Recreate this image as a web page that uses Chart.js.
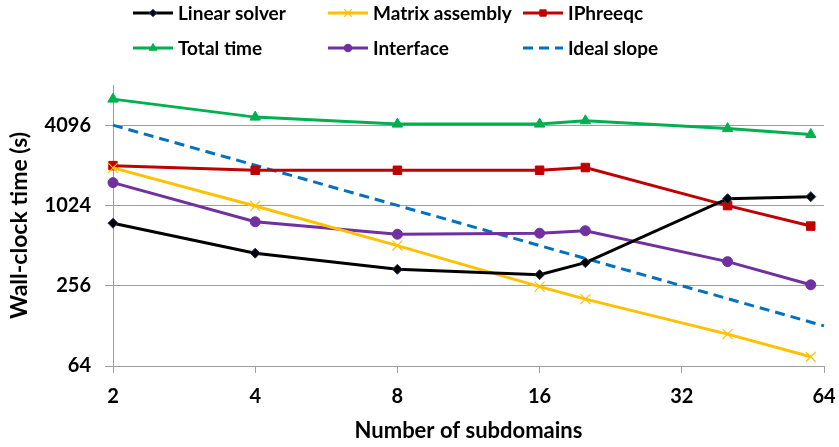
<!DOCTYPE html>
<html>
<head>
<meta charset="utf-8">
<script src="https://cdn.jsdelivr.net/npm/chart.js@4"></script>
<style>
html,body{margin:0;padding:0;background:#fff;}
#wrap{position:relative;width:839px;height:447px;}
</style>
</head>
<body>
<div id="wrap"><canvas id="c" width="839" height="447"></canvas></div>
<script>
const subdomains = [2, 4, 8, 16, 20, 40, 60];
const linearSolver = [753, 449, 340, 310, 381, 1151, 1192];
const matrixAssembly = [1958, 1014, 512, 252, 203, 111, 75];
const iphreeqc = [2036, 1880, 1880, 1880, 1970, 1021, 717];
const totalTime = [6420, 4705, 4170, 4170, 4415, 3860, 3490];
const interfaceTime = [1518, 772, 623, 634, 661, 388, 260];
const idealX = [2, 4, 8, 16, 32, 64];
const idealSlope = [4096, 2048, 1024, 512, 256, 128];
const xTicks = [2, 4, 8, 16, 32, 64];
const yTicks = [64, 256, 1024, 4096];
const seriesNames = ['Linear solver', 'Matrix assembly', 'IPhreeqc', 'Total time', 'Interface', 'Ideal slope'];

const FONT = 'Lato, "Open Sans", sans-serif';
const pts = (xs, ys) => xs.map((x, i) => ({x: x, y: ys[i]}));

const datasets = [
  {label: seriesNames[0], data: pts(subdomains, linearSolver), borderColor: '#000000', backgroundColor: '#000000',
   pointStyle: 'rectRot', pointRadius: 5, pointBorderColor: '#1f3864', pointBorderWidth: 1},
  {label: seriesNames[1], data: pts(subdomains, matrixAssembly), borderColor: '#FFC000', backgroundColor: '#FFC000',
   pointStyle: 'crossRot', pointRadius: 7, pointBorderColor: '#FFC000', pointBorderWidth: 1.2},
  {label: seriesNames[2], data: pts(subdomains, iphreeqc), borderColor: '#C00000', backgroundColor: '#C00000',
   pointStyle: 'rect', pointRadius: 6, pointBorderColor: '#C00000', pointBorderWidth: 1},
  {label: seriesNames[3], data: pts(subdomains, totalTime), borderColor: '#00B050', backgroundColor: '#00B050',
   pointStyle: 'triangle', pointRadius: 6, pointBorderColor: '#00B050', pointBorderWidth: 1},
  {label: seriesNames[4], data: pts(subdomains, interfaceTime), borderColor: '#7030A0', backgroundColor: '#7030A0',
   pointStyle: 'circle', pointRadius: 5, pointBorderColor: '#7030A0', pointBorderWidth: 1},
  {label: seriesNames[5], data: pts(idealX, idealSlope), borderColor: '#0070C0', backgroundColor: '#0070C0',
   pointRadius: 0, borderDash: [10, 6]}
];
datasets.forEach(d => { d.borderWidth = 3; d.tension = 0; d.clip = false; d.fill = false; });

const legendPlugin = {
  id: 'gridLegend',
  afterDraw(chart) {
    const ctx = chart.ctx;
    const cols = [133, 328, 523];
    const rows = [13, 48];
    ctx.save();
    chart.data.datasets.forEach((ds, i) => {
      const x0 = cols[i % 3];
      const y = rows[Math.floor(i / 3)];
      ctx.beginPath();
      ctx.strokeStyle = ds.borderColor;
      ctx.lineWidth = 3;
      ctx.setLineDash(ds.borderDash || []);
      ctx.moveTo(x0, y);
      ctx.lineTo(x0 + 40, y);
      ctx.stroke();
      ctx.setLineDash([]);
      if (ds.pointRadius > 0) {
        ctx.fillStyle = ds.backgroundColor;
        ctx.strokeStyle = ds.pointBorderColor;
        ctx.lineWidth = ds.pointBorderWidth;
        Chart.helpers.drawPoint(ctx, {pointStyle: ds.pointStyle, radius: ds.pointRadius * 0.75, borderWidth: ds.pointBorderWidth, rotation: 0}, x0 + 20, y);
      }
      ctx.fillStyle = '#000';
      ctx.font = 'bold 19px ' + FONT;
      ctx.textBaseline = 'middle';
      ctx.textAlign = 'left';
      ctx.fillText(ds.label, x0 + 45, y + 1);
    });
    ctx.restore();
  }
};

new Chart(document.getElementById('c'), {
  type: 'line',
  data: {datasets: datasets},
  plugins: [legendPlugin],
  options: {
    responsive: false,
    animation: false,
    layout: {padding: {top: 85, right: 15, left: 0, bottom: 0}},
    plugins: {legend: {display: false}, tooltip: {enabled: false}},
    scales: {
      x: {
        type: 'logarithmic', min: 2, max: 64,
        afterBuildTicks: s => { s.ticks = xTicks.map(v => ({value: v})); },
        afterFit: s => { s.height = 81; s.paddingLeft = 0; s.paddingRight = 0; },
        ticks: {callback: v => String(v), color: '#000', font: {family: FONT, size: 20, weight: 'bold'}, padding: 12, maxRotation: 0, autoSkip: false},
        grid: {drawOnChartArea: false, drawTicks: true, tickLength: 7, color: '#9d9d9d'},
        border: {display: true, color: '#9d9d9d', width: 1},
        title: {display: true, text: 'Number of subdomains', color: '#000', font: {family: FONT, size: 22, weight: 'bold'}, padding: {top: 0, bottom: 3}}
      },
      y: {
        type: 'logarithmic', min: 64, max: 8192,
        afterBuildTicks: s => { s.ticks = yTicks.map(v => ({value: v})); },
        afterFit: s => { s.width = 113; s.paddingTop = 0; s.paddingBottom = 0; },
        ticks: {callback: v => String(v), color: '#000', font: {family: FONT, size: 20, weight: 'bold'}, padding: 14, autoSkip: false},
        grid: {drawOnChartArea: true, drawTicks: true, tickLength: 8, color: '#9d9d9d'},
        border: {display: true, color: '#9d9d9d', width: 1},
        title: {display: true, text: 'Wall-clock time (s)', color: '#000', font: {family: FONT, size: 23, weight: 'bold'}, padding: {top: 6, bottom: 0}}
      }
    }
  }
});
</script>
</body>
</html>
